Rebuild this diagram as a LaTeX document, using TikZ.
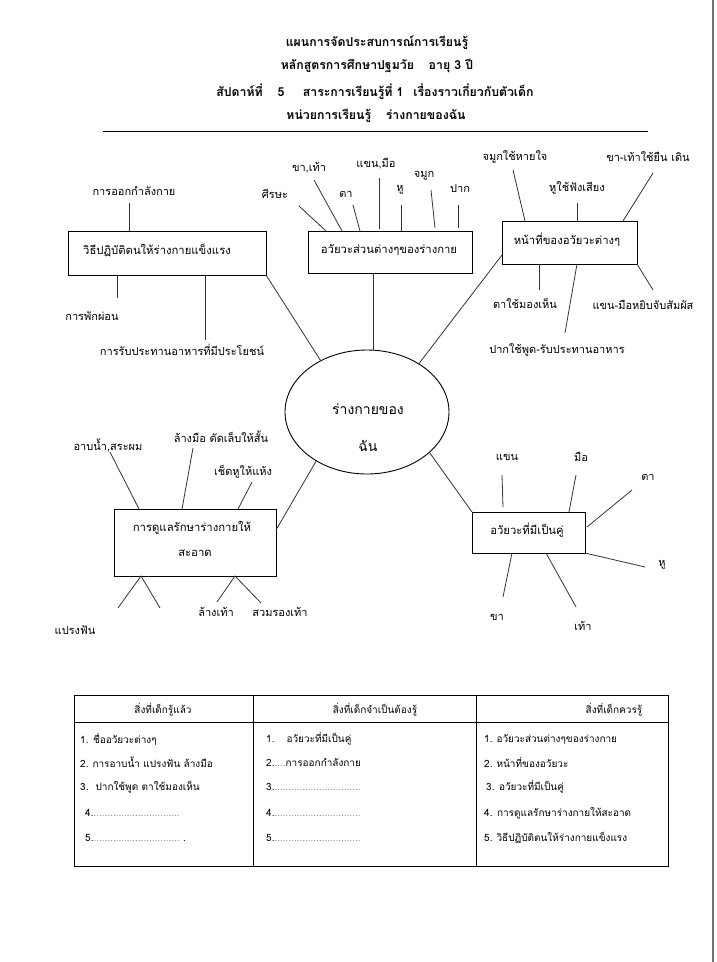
\documentclass[tikz,border=0pt]{standalone}
\usepackage{fontspec}
\setmainfont[Script=Thai]{Loma}
\usetikzlibrary{shapes.geometric}
\begin{document}
\begin{tikzpicture}[x=1pt,y=-1pt,
  lbl/.style={inner sep=0pt, font=\fontsize{11}{13}\selectfont},
  box/.style={draw, line width=0.9pt, inner sep=0pt},
  btxt/.style={inner sep=0pt, font=\fontsize{11.3}{13}\selectfont},
  ln/.style={line width=0.8pt, draw=black!80},
  hdr/.style={inner sep=0pt, font=\bfseries\fontsize{12.3}{14}\selectfont},
  tt/.style={inner sep=0pt, anchor=west, font=\fontsize{10}{12}\selectfont},
  th/.style={inner sep=0pt, font=\fontsize{10}{12}\selectfont}]
\useasboundingbox (0,0) rectangle (716,962);
\fill[white] (0,0) rectangle (716,962);
\coordinate (pgT) at (713,0); \coordinate (pgB) at (713,962);
\draw[black!55, line width=1.5pt] (pgT) -- (pgB);

% header
\node[hdr] (h1) at (377,43) {แผนการจัดประสบการณ์การเรียนรู้};
\node[hdr] (h2) at (377,66) {หลักสูตรการศึกษาปฐมวัย\hspace{1.2em}อายุ 3 ปี};
\node[hdr] (h3) at (375,92) {สัปดาห์ที่\hspace{1.2em}5\hspace{1.5em}สาระการเรียนรู้ที่ 1\hspace{0.8em}เรื่องราวเกี่ยวกับตัวเด็ก};
\node[hdr] (h4) at (376,116) {หน่วยการเรียนรู้\hspace{1.2em}ร่างกายของฉัน};
\coordinate (rl) at (103,131); \coordinate (rr) at (648,131);
\draw[line width=0.9pt] (rl) -- (rr);

% centre ellipse
\node[draw, ellipse, line width=0.9pt, minimum width=164pt, minimum height=124pt, inner sep=0pt] (ell) at (367,412) {};
\node[inner sep=0pt, font=\fontsize{14}{16}\selectfont] (e1) at (368,409) {ร่างกายของ};
\node[inner sep=0pt, font=\fontsize{14}{16}\selectfont] (e2) at (368,446) {ฉัน};

% boxes
\node[box, minimum width=198pt, minimum height=44pt] (b1) at (167,253) {};
\node[btxt] (b1t) at (157,250) {วิธีปฏิบัติตนให้ร่างกายแข็งแรง};
\node[box, minimum width=164pt, minimum height=42pt] (b2) at (390,252) {};
\node[btxt] (b2t) at (389,250) {อวัยวะส่วนต่างๆของร่างกาย};
\node[box, minimum width=135pt, minimum height=43pt] (b3) at (569.5,242.5) {};
\node[btxt] (b3t) at (567,240) {หน้าที่ของอวัยวะต่างๆ};
\node[box, minimum width=162pt, minimum height=67pt] (b4) at (195,542.5) {};
\node[btxt] (b4t) at (192,528) {การดูแลรักษาร่างกายให้};
\node[btxt] (b4u) at (195,553) {สะอาด};
\node[box, minimum width=113pt, minimum height=41pt] (b5) at (528.5,532.5) {};
\node[btxt] (b5t) at (527,530) {อวัยวะที่มีเป็นคู่};

% links to the centre
\coordinate (k1) at (266,275);
\draw[ln] (k1) -- (ell.132);
\coordinate (k2) at (373,273);
\draw[ln] (k2) -- (k2 |- ell.north);
\coordinate (k3) at (502,255);
\draw[ln] (k3) -- (ell.43);
\coordinate (k4) at (276,530);
\draw[ln] (k4) -- (ell.224);
\coordinate (k5) at (472,512);
\draw[ln] (ell.-33) -- (k5);

% group 1
\node[lbl] (g1a) at (134,191) {การออกกำลังกาย};
\node[lbl] (g1b) at (92,316) {การพักผ่อน};
\node[lbl] (g1c) at (182,350) {การรับประทานอาหารที่มีประโยชน์};
\coordinate (p1a) at (129,203); \draw[ln] (p1a) -- (p1a |- b1.north);
\coordinate (p1b) at (117,298); \draw[ln] (p1b |- b1.south) -- (p1b);
\coordinate (p1c) at (205,340); \draw[ln] (p1c |- b1.south) -- (p1c);

% group 2
\node[lbl] (g2a) at (275,194) {ศีรษะ};
\node[lbl] (g2b) at (309,168) {ขา,เท้า};
\node[lbl] (g2c) at (346,194) {ตา};
\node[lbl] (g2d) at (376,164) {แขน,มือ};
\node[lbl] (g2e) at (400,190) {หู};
\node[lbl] (g2f) at (424,176) {จมูก};
\node[lbl] (g2g) at (460,189) {ปาก};
\coordinate (q2a) at (299,206); \coordinate (r2a) at (326,231); \draw[ln] (q2a) -- (r2a);
\coordinate (q2b) at (314,180); \coordinate (r2b) at (342,231); \draw[ln] (q2b) -- (r2b);
\coordinate (q2c) at (353,205); \coordinate (r2c) at (360,231); \draw[ln] (q2c) -- (r2c);
\coordinate (q2d) at (379,178); \coordinate (r2d) at (379,229); \draw[ln] (q2d) -- (r2d);
\coordinate (q2e) at (401,205); \coordinate (r2e) at (401,231); \draw[ln] (q2e) -- (r2e);
\coordinate (q2f) at (431,190); \coordinate (r2f) at (435,228); \draw[ln] (q2f) -- (r2f);
\coordinate (q2g) at (458,205); \coordinate (r2g) at (458,228); \draw[ln] (q2g) -- (r2g);

% group 3
\node[lbl] (g3a) at (515,157) {จมูกใช้หายใจ};
\node[lbl] (g3b) at (577,188) {หูใช้ฟังเสียง};
\node[lbl] (g3c) at (648,157) {ขา-เท้าใช้ยืน เดิน};
\node[lbl] (g3d) at (525,303) {ตาใช้มองเห็น};
\node[lbl] (g3e) at (643,305) {แขน-มือหยิบจับสัมผัส};
\node[lbl] (g3f) at (557,350) {ปากใช้พูด-รับประทานอาหาร};
\coordinate (q3a) at (513,170); \coordinate (r3a) at (525,221); \draw[ln] (q3a) -- (r3a);
\coordinate (q3b) at (577,203); \coordinate (r3b) at (577,221); \draw[ln] (q3b) -- (r3b);
\coordinate (q3c) at (653,173); \coordinate (r3c) at (623,221); \draw[ln] (q3c) -- (r3c);
\coordinate (q3d) at (539,290); \coordinate (r3d) at (539,264); \draw[ln] (q3d) -- (r3d);
\coordinate (q3e) at (653,290); \coordinate (r3e) at (637,264); \draw[ln] (q3e) -- (r3e);
\coordinate (q3f) at (565,333); \coordinate (r3f) at (577,264); \draw[ln] (q3f) -- (r3f);

% group 4
\node[lbl] (g4a) at (108,445) {อาบน้ำ,สระผม};
\node[lbl] (g4b) at (221,437) {ล้างมือ ตัดเล็บให้สั้น};
\node[lbl] (g4c) at (243,472) {เช็ดหูให้แห้ง};
\node[lbl] (g4d) at (75,630) {แปรงฟัน};
\node[lbl] (g4e) at (216,612) {ล้างเท้า};
\node[lbl] (g4f) at (280,612) {สวมรองเท้า};
\coordinate (q4a) at (110,452); \coordinate (r4a) at (139,509); \draw[ln] (q4a) -- (r4a);
\coordinate (q4b) at (193,448); \coordinate (r4b) at (182,509); \draw[ln] (q4b) -- (r4b);
\coordinate (q4c) at (252,482); \coordinate (r4c) at (238,509); \draw[ln] (q4c) -- (r4c);
\coordinate (v1) at (141,576); \coordinate (v1l) at (118,608); \coordinate (v1r) at (160,608);
\draw[ln] (v1l) -- (v1) -- (v1r);
\coordinate (v2) at (235,576); \coordinate (v2l) at (217,602); \coordinate (v2r) at (261,603);
\draw[ln] (v2l) -- (v2) -- (v2r);

% group 5
\node[lbl] (g5a) at (507,457) {แขน};
\node[lbl] (g5b) at (581,457) {มือ};
\node[lbl] (g5c) at (648,477) {ตา};
\node[lbl] (g5d) at (662,565) {หู};
\node[lbl] (g5e) at (497,617) {ขา};
\node[lbl] (g5f) at (583,626) {เท้า};
\coordinate (q5a) at (502,475); \coordinate (r5a) at (503,507); \draw[ln] (q5a) -- (r5a);
\coordinate (q5b) at (576,475); \coordinate (r5b) at (569,512); \draw[ln] (q5b) -- (r5b);
\coordinate (q5c) at (632,490); \coordinate (r5c) at (587,527); \draw[ln] (q5c) -- (r5c);
\coordinate (q5d) at (645,567); \coordinate (r5d) at (585,553); \draw[ln] (q5d) -- (r5d);
\coordinate (q5e) at (503,597); \coordinate (r5e) at (512,553); \draw[ln] (q5e) -- (r5e);
\coordinate (q5f) at (576,607); \coordinate (r5f) at (546,553); \draw[ln] (q5f) -- (r5f);

% table
\coordinate (tA) at (74,695); \coordinate (tB) at (668,866);
\draw[line width=0.9pt] (tA) rectangle (tB);
\coordinate (tH1) at (74,722); \coordinate (tH2) at (668,722);
\draw[line width=0.9pt] (tH1) -- (tH2);
\coordinate (d1t) at (253,695); \coordinate (d1b) at (253,866);
\coordinate (d2t) at (476,695); \coordinate (d2b) at (476,866);
\draw[line width=0.9pt] (d1t) -- (d1b) (d2t) -- (d2b);
\node[th] (th1) at (163,710) {สิ่งที่เด็กรู้แล้ว};
\node[th] (th2) at (375,710) {สิ่งที่เด็กจำเป็นต้องรู้};
\node[th] (th3) at (614,710) {สิ่งที่เด็กควรรู้};

\node[tt] (a1) at (80,739) {1. ชื่ออวัยวะต่างๆ};
\node[tt] (a2) at (80,762) {2.\hspace{0.4em}การอาบน้ำ แปรงฟัน ล้างมือ};
\node[tt] (a3) at (80,787) {3.\hspace{0.7em}ปากใช้พูด ตาใช้มองเห็น};
\node[tt] (a4) at (85,813) {4.\textcolor{black!45}{...............................}};
\node[tt] (a5) at (85,838) {5.\textcolor{black!45}{...............................}\ .};

\node[tt] (c1) at (266,739) {1.\hspace{1.2em}อวัยวะที่มีเป็นคู่};
\node[tt] (c2) at (266,762) {2.\textcolor{black!45}{....}การออกกำลังกาย};
\node[tt] (c3) at (266,787) {3.\textcolor{black!45}{ ...............................}};
\node[tt] (c4) at (266,813) {4.\textcolor{black!45}{ ...............................}};
\node[tt] (c5) at (266,838) {5.\textcolor{black!45}{ ...............................}};

\node[tt] (f1) at (484,739) {1.\hspace{0.4em}อวัยวะส่วนต่างๆของร่างกาย};
\node[tt] (f2) at (484,762) {2.\hspace{0.4em}หน้าที่ของอวัยวะ};
\node[tt] (f3) at (486,787) {3. อวัยวะที่มีเป็นคู่};
\node[tt] (f4) at (484,813) {4. การดูแลรักษาร่างกายให้สะอาด};
\node[tt] (f5) at (484,838) {5.\hspace{0.4em}วิธีปฏิบัติตนให้ร่างกายแข็งแรง};
\end{tikzpicture}
\end{document}
